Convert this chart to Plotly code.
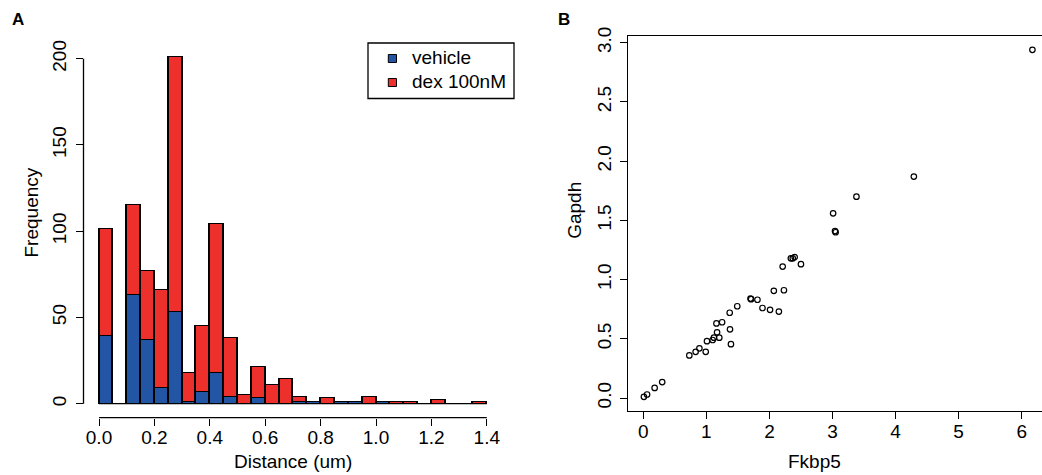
import numpy as np
import plotly.graph_objects as go

W, H = 1042, 475
FONT = "Liberation Sans, Arial, Helvetica, sans-serif"
BLUE = "#2256A5"
RED = "#EE302D"

# Panel A: distance histogram, 0.05 um bins from 0.0 to 1.4 (stacked counts)
bin_width = 0.05
bin_left = np.round(np.arange(28) * bin_width, 2)
vehicle_counts = [39, 0, 63, 37, 9, 53, 1, 7, 18, 4, 0, 3, 0, 0,
                  1, 1, 0, 1, 1, 0, 1, 0, 0, 0, 0, 0, 0, 0]
dex_counts = [62, 0, 52, 40, 57, 148, 17, 38, 86, 34, 5, 18, 11, 14,
              3, 0, 3, 0, 0, 4, 0, 1, 1, 0, 2, 0, 0, 1]
series_names = ["vehicle", "dex 100nM"]
hist_xticks = [0.0, 0.2, 0.4, 0.6, 0.8, 1.0, 1.2, 1.4]
hist_yticks = [0, 50, 100, 150, 200]

# Panel B: Fkbp5 vs Gapdh expression
fkbp5 = [0.01, 0.06, 0.18, 0.30, 0.73, 0.83, 0.89, 0.99, 1.01, 1.10,
         1.12, 1.17, 1.205, 1.16, 1.25, 1.375, 1.39, 1.37, 1.49, 1.70,
         1.71, 1.81, 1.89, 2.01, 2.15, 2.07, 2.23, 2.21, 2.34, 2.37,
         2.40, 2.50, 3.01, 3.04, 3.05, 3.38, 4.29, 6.17]
gapdh = [0.01, 0.03, 0.085, 0.135, 0.36, 0.39, 0.42, 0.39, 0.48, 0.49,
         0.51, 0.555, 0.51, 0.63, 0.64, 0.58, 0.455, 0.72, 0.775, 0.84,
         0.835, 0.83, 0.76, 0.745, 0.73, 0.905, 0.91, 1.11, 1.18, 1.18,
         1.19, 1.13, 1.56, 1.41, 1.40, 1.70, 1.87, 2.94]
scatter_xticks = [0, 1, 2, 3, 4, 5, 6]
scatter_yticks = [0.0, 0.5, 1.0, 1.5, 2.0, 2.5, 3.0]

fig = go.Figure()

bar_line = dict(color="black", width=1.3)
for counts, name, color in zip([vehicle_counts, dex_counts], series_names, [BLUE, RED]):
    fig.add_trace(go.Bar(x=bin_left, y=counts, width=bin_width, offset=0,
                         name=name, showlegend=False,
                         marker=dict(color=color, line=bar_line),
                         xaxis="x", yaxis="y"))

fig.add_trace(go.Scatter(x=fkbp5, y=gapdh, mode="markers", showlegend=False,
                         marker=dict(symbol="circle-open", size=5.5, color="black",
                                     line=dict(width=1.2, color="black")),
                         xaxis="x2", yaxis="y2"))

tick_common = dict(ticks="outside", ticklen=7, tickwidth=1.3, tickcolor="black",
                   showgrid=False, zeroline=False, automargin=False,
                   tickfont=dict(family=FONT, size=19, color="black"))


def px_x(p):
    return p / W


def px_y(p):
    return 1 - p / H


fig.update_layout(
    template="none",
    width=W, height=H, autosize=False,
    margin=dict(l=0, r=0, t=0, b=0, pad=0, autoexpand=False),
    paper_bgcolor="white", plot_bgcolor="white",
    barmode="stack", bargap=0, showlegend=False,
    font=dict(family=FONT, size=19, color="black"),
    xaxis=dict(domain=[px_x(83.5), px_x(502.3)], range=[-0.056, 1.456],
               anchor="y", showline=False, tickvals=hist_xticks,
               tickformat=".1f", ticklabelstandoff=-4, **tick_common),
    yaxis=dict(domain=[px_y(417.6), px_y(43.1)], range=[-8.04, 209.04],
               anchor="x", showline=False, tickvals=hist_yticks,
               tickangle=-90, ticklabelstandoff=2, **tick_common),
    xaxis2=dict(domain=[px_x(628.4), 1.0], range=[-0.236, 6.322],
                anchor="y2", showline=True, mirror=True, linecolor="black",
                linewidth=1.3, tickvals=scatter_xticks, ticklabelstandoff=-4,
                **tick_common),
    yaxis2=dict(domain=[px_y(410.7), px_y(36.0)], range=[-0.107, 3.057],
                anchor="x2", showline=True, mirror=False, linecolor="black",
                linewidth=1.3, tickvals=scatter_yticks, tickformat=".1f",
                tickangle=-90, ticklabelstandoff=2, **tick_common),
)

# Histogram axis lines span only the labelled range; baseline under the bins
axis_line = dict(color="black", width=1.3)
fig.add_shape(type="line", xref="x domain", yref="y", x0=0, x1=0, y0=0, y1=200,
              line=axis_line)
fig.add_shape(type="line", xref="x", yref="y domain", x0=0, x1=1.4, y0=0, y1=0,
              line=axis_line)
fig.add_shape(type="line", xref="x", yref="y", x0=0, x1=1.4, y0=0, y1=0,
              line=dict(color="black", width=1.2), layer="below")

# Legend box for panel A (top-right corner of the histogram)
fig.add_shape(type="rect", xref="paper", yref="paper",
              x0=px_x(368.0), x1=px_x(514.0), y0=px_y(98.5), y1=px_y(43.0),
              line=dict(color="black", width=1.3), fillcolor="white")
legend_rows_y = [58.5, 82.5]
for name, color, ry in zip(series_names, [BLUE, RED], legend_rows_y):
    fig.add_shape(type="rect", xref="paper", yref="paper",
                  x0=px_x(388.3), x1=px_x(396.5), y0=px_y(ry + 4.0), y1=px_y(ry - 4.0),
                  line=dict(color="black", width=1), fillcolor=color)
    fig.add_annotation(text=name, x=px_x(409.5), y=px_y(ry - 1.0),
                       xref="paper", yref="paper", xanchor="left", yanchor="middle",
                       showarrow=False, font=dict(family=FONT, size=19, color="black"))

annotations = [
    dict(text="<b>A</b>", x=px_x(17.7), y=px_y(19.2), size=17, angle=0),
    dict(text="<b>B</b>", x=px_x(564.3), y=px_y(19.2), size=17, angle=0),
    dict(text="Distance (um)", x=px_x(292.5), y=px_y(461.7), size=19, angle=0),
    dict(text="Frequency", x=px_x(30.5), y=px_y(213.0), size=19, angle=-90),
    dict(text="Fkbp5", x=px_x(814.5), y=px_y(461.7), size=19, angle=0),
    dict(text="Gapdh", x=px_x(575.0), y=px_y(210.8), size=19, angle=-90),
]
for a in annotations:
    fig.add_annotation(text=a["text"], x=a["x"], y=a["y"], xref="paper", yref="paper",
                       xanchor="center", yanchor="middle", showarrow=False,
                       textangle=a["angle"],
                       font=dict(family=FONT, size=a["size"], color="black"))

fig.write_html("out.html", post_script="document.body.style.margin='0';")
